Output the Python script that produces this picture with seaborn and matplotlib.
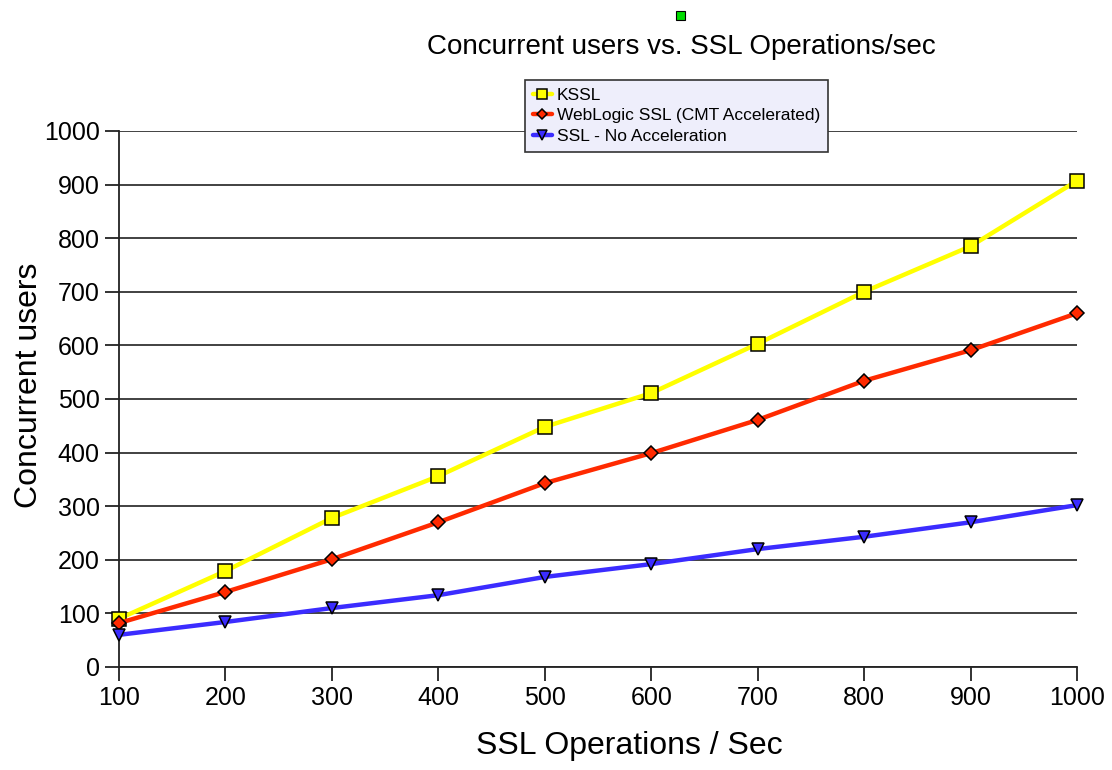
import numpy as np
import pandas as pd
import matplotlib
matplotlib.use("Agg")
import matplotlib.pyplot as plt
import seaborn as sns
from matplotlib.patches import Rectangle

# data
ops = [100, 200, 300, 400, 500, 600, 700, 800, 900, 1000]
kssl = [90, 179, 278, 356, 448, 511, 603, 700, 785, 907]
weblogic = [82, 140, 201, 270, 343, 399, 461, 534, 591, 660]
no_accel = [60, 84, 110, 134, 168, 192, 220, 243, 270, 302]

series_names = ["KSSL", "WebLogic SSL (CMT Accelerated)", "SSL - No Acceleration"]
series_vals = [kssl, weblogic, no_accel]
colors = ["#ffff00", "#ff2a00", "#3b2cff"]
markers = ["s", "D", "v"]
msizes = [10, 7, 9]

sns.set_theme(style="white")
plt.rcParams["font.family"] = ["Liberation Sans", "DejaVu Sans"]
plt.rcParams["text.color"] = "black"
plt.rcParams["axes.labelcolor"] = "black"
plt.rcParams["xtick.color"] = "black"
plt.rcParams["ytick.color"] = "black"

fig = plt.figure(figsize=(11.12, 7.7), dpi=100)
ax = fig.add_axes([119 / 1112, 1 - 667 / 770, (1077 - 119) / 1112, (667 - 131) / 770])

for name, vals, c, m, ms in zip(series_names, series_vals, colors, markers, msizes):
    df = pd.DataFrame({"ops": ops, "users": vals})
    sns.lineplot(data=df, x="ops", y="users", ax=ax, color=c, linewidth=3.2,
                 marker=m, markersize=ms, markerfacecolor=c,
                 markeredgecolor="black", markeredgewidth=1.1, label=name,
                 zorder=3)

ax.set_xlim(100, 1000)
ax.set_ylim(0, 1000)
ax.set_xticks(ops)
ax.set_yticks(range(0, 1001, 100))
ax.yaxis.grid(True, color="#333333", linewidth=1.3)
ax.xaxis.grid(False)
for s in ["top", "right"]:
    ax.spines[s].set_visible(False)
ax.spines["left"].set_color("#222222")
ax.spines["left"].set_linewidth(1.3)
ax.spines["bottom"].set_color("#222222")
ax.spines["bottom"].set_linewidth(1.3)
ax.tick_params(axis="both", direction="out", length=10, width=1.3, color="#222222",
               labelsize=18, left=True, bottom=True, pad=4)
ax.set_xlabel("SSL Operations / Sec", fontsize=23)
ax.xaxis.set_label_coords(0.533, -0.12)
ax.set_ylabel("Concurrent users", fontsize=23)
ax.yaxis.set_label_coords(-0.078, 0.525)
for ln in ax.lines:
    ln.set_clip_on(False)

fig.text(681 / 1112, 1 - 47 / 770, "Concurrent users vs. SSL Operations/sec",
         ha="center", va="center", fontsize=20)
fig.patches.append(Rectangle((676 / 1112, 1 - 20 / 770), 9 / 1112, 9 / 770,
                             transform=fig.transFigure, facecolor="#00dd00",
                             edgecolor="black", linewidth=0.8))

leg = ax.legend(loc="upper left", bbox_to_anchor=(525 / 1112, 1 - 80 / 770),
                bbox_transform=fig.transFigure, fontsize=12.5, frameon=True,
                fancybox=False, borderpad=0.45, labelspacing=0.3,
                handlelength=1.1, handletextpad=0.3, borderaxespad=0,
                markerscale=0.75)
leg.get_frame().set_facecolor("#eeeefb")
leg.get_frame().set_edgecolor("#333333")
leg.get_frame().set_linewidth(1.2)
leg.get_frame().set_alpha(1)
leg.set_zorder(5)

fig.savefig("out.png", dpi=100)
